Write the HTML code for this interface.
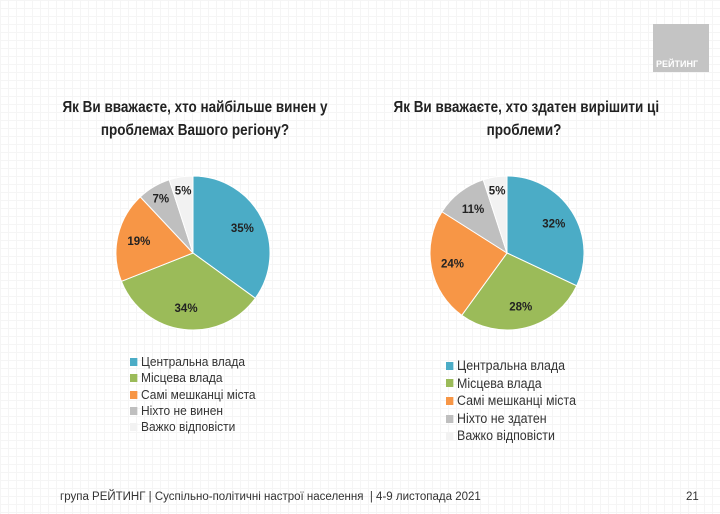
<!DOCTYPE html>
<html><head><meta charset="utf-8">
<style>
body{margin:0;width:720px;height:514px;overflow:hidden;background:#fff;font-family:"Liberation Sans","DejaVu Sans",sans-serif;}
#stage{position:relative;width:720px;height:514px;background-color:#fff;
background-image:linear-gradient(#f5f5f5 1px,transparent 1px),linear-gradient(90deg,#f5f5f5 1px,transparent 1px);background-size:8px 8px;}
.title{position:absolute;font-weight:bold;font-size:15.5px;color:#222;text-align:center;line-height:23px;white-space:nowrap;transform:scaleX(0.87);transform-origin:center top;}
.legend{position:absolute;font-size:13px;color:#333;transform:scaleX(0.92);transform-origin:left top;white-space:nowrap;}
.li{display:flex;align-items:center;}
.sw{width:8px;height:8px;margin-right:4px;}
.foot{position:absolute;font-size:11.5px;color:#333;}
</style></head><body>
<div id="stage">
<div style="position:absolute;left:653px;top:24px;width:56px;height:48px;background:#c4c4c4;">
<span style="position:absolute;left:3px;bottom:3px;font-size:9px;font-weight:bold;color:#fff;">РЕЙТИНГ</span></div>
<div class="title" style="left:40px;top:96px;width:310px;">Як Ви вважаєте, хто найбільше винен у<br>проблемах Вашого регіону?</div>
<div class="title" style="left:374px;top:96px;width:300px;">Як Ви вважаєте, хто здатен вирішити ці<br>проблеми?</div>
<svg id="svg" width="720" height="514" style="position:absolute;left:0;top:0"></svg>
<div class="legend" id="leg1" style="left:130px;top:354px;line-height:16.3px;"></div>
<div class="legend" id="leg2" style="left:446px;top:357px;line-height:17.6px;font-size:13.5px;"></div>
<div class="foot" style="left:60px;top:491px;">група РЕЙТИНГ | Суспільно-політичні настрої населення &nbsp;| 4-9 листопада 2021</div>
<div class="foot" style="left:686px;top:491px;">21</div>
</div>
<script>
const colors=["#4bacc6","#9bbb59","#f79646","#bfbfbf","#f2f2f2"];
const values1=[35,34,19,7,5];
const values2=[32,28,24,11,5];
const labels1=["Центральна влада","Місцева влада","Самі мешканці міста","Ніхто не винен","Важко відповісти"];
const labels2=["Центральна влада","Місцева влада","Самі мешканці міста","Ніхто не здатен","Важко відповісти"];
const svg=document.getElementById('svg');
const NS="http://www.w3.org/2000/svg";
function pie(vals,cx,cy,r,id){
  const tot=vals.reduce((a,b)=>a+b,0);let acc=0;
  vals.forEach((v,i)=>{
    const a0=acc/tot*2*Math.PI;acc+=v;const a1=acc/tot*2*Math.PI;
    const x0=cx+r*Math.sin(a0),y0=cy-r*Math.cos(a0),x1=cx+r*Math.sin(a1),y1=cy-r*Math.cos(a1);
    const p=document.createElementNS(NS,'path');
    p.setAttribute('d',`M${cx},${cy}L${x0},${y0}A${r},${r} 0 ${a1-a0>Math.PI?1:0} 1 ${x1},${y1}Z`);
    p.setAttribute('fill',colors[i]);p.setAttribute('stroke','#fff');p.setAttribute('stroke-width','1');
    
    
    svg.appendChild(p);
    const am=(a0+a1)/2,lr=r*(v<10?0.82:0.72);
    const t=document.createElementNS(NS,'text');
    t.setAttribute('x',cx+lr*Math.sin(am));t.setAttribute('y',cy-lr*Math.cos(am)+4);
    t.setAttribute('text-anchor','middle');t.setAttribute('font-size','11.5');t.setAttribute('font-weight','bold');
    t.setAttribute('fill','#222');t.setAttribute('font-family','Liberation Sans, sans-serif');
    t.textContent=v+'%';
    
    
    svg.appendChild(t);
  });
}
pie(values1,193,253,77,'chart1');
pie(values2,507,253,77,'chart2');
function legend(elId,labels,id){
  const el=document.getElementById(elId);
  labels.forEach((l,i)=>{
    const d=document.createElement('div');d.className='li';
    
    
    d.innerHTML='<span class="sw" style="background:'+colors[i]+'"></span>'+l;
    el.appendChild(d);
  });
}
legend('leg1',labels1,'chart1');
legend('leg2',labels2,'chart2');
</script>
</body></html>
